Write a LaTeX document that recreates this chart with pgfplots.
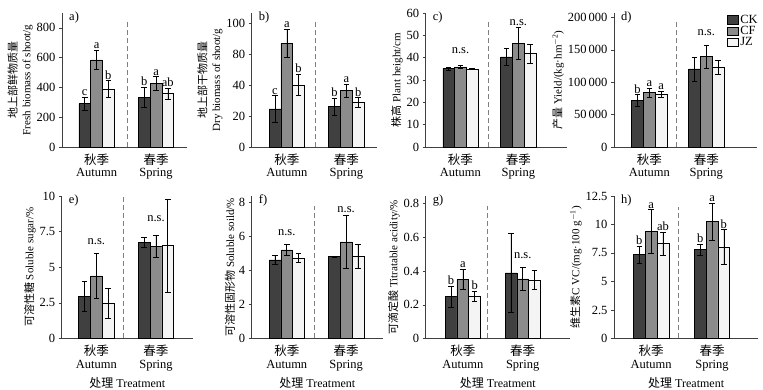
\documentclass[border=0pt]{standalone}
\usepackage{fontspec}
\usepackage{pgfplots}
\pgfplotsset{compat=1.18}
\setmainfont{Liberation Serif}
\newfontfamily\cjk{Noto Sans CJK SC}
\definecolor{ckc}{HTML}{404040}
\definecolor{cfc}{HTML}{8C8C8C}
\definecolor{jzc}{HTML}{F4F4F4}
\newcommand{\sig}[4]{\node[anchor=south,inner sep=1.2pt,font=\fontsize{12.5}{12.5}\selectfont] at ([xshift=#3]axis cs:#1,#2) {#4};}
\newcommand{\ns}[2]{\node[anchor=center,font=\fontsize{12.5}{12.5}\selectfont] at (axis cs:#1,#2) {n.s.};}
\newcommand{\plab}[1]{\node[anchor=north west,inner sep=0pt,font=\fontsize{12.5}{12.5}\selectfont] at ([xshift=7pt,yshift=1pt]rel axis cs:0,1) {#1};}
\pgfplotsset{
  panel/.style={
    scale only axis, axis lines=left,
    axis line style={-, black!75, line width=0.8pt},
    ybar=0pt, bar width=11.8pt,
    xtick={1,2},
    xticklabels={{{\cjk 秋季}\\Autumn},{{\cjk 春季}\\Spring}},
    xticklabel style={align=center, font=\fontsize{12.5}{12.5}\selectfont},
    x tick style={draw=none},
    y tick style={black!75, line width=0.6pt}, tick align=outside, major tick length=3pt,
    yticklabel style={font=\fontsize{12.5}{12.5}\selectfont},
    ylabel style={align=center, font=\fontsize{11}{13.5}\selectfont, yshift=-3pt},
    xlabel style={font=\fontsize{12}{12}\selectfont},
    ymin=0, enlarge y limits=false, enlarge x limits=false, clip=false,
    scaled y ticks=false,
    /pgf/number format/assume math mode=true,
    error bars/y dir=both, error bars/y explicit,
    error bars/error mark options={rotate=90, mark size=2.8pt, line width=0.6pt, black},
    error bars/error bar style={line width=0.6pt, black},
    every axis plot/.append style={line width=0.5pt},
  },
  ck/.style={fill=ckc, draw=black},
  cf/.style={fill=cfc, draw=black},
  jz/.style={fill=jzc, draw=black},
}
\newcommand{\sep}[2]{\draw[dashed, black!50, line width=0.7pt, dash pattern=on 5pt off 3pt] ({axis cs:#1,0}|-{rel axis cs:0,0}) -- ({axis cs:#1,0}|-{rel axis cs:0,#2});}
\begin{document}
\begin{tikzpicture}
\useasboundingbox (0pt,0pt) rectangle (763pt,390pt);
% ---------- a ----------
\begin{axis}[panel, at={(62pt,243pt)}, anchor=south west, width=125pt, height=134pt,
  xmin=0.42, xmax=2.52, ymax=900, ytick={0,200,400,600,800},
  ylabel={{\cjk 地上部鲜物质量}\\Fresh biomass of shoot/g}]
\addplot[ck] coordinates {(1,292) +- (0,44) (2,335) +- (0,68)};
\addplot[cf] coordinates {(1,585) +- (0,63) (2,428) +- (0,44)};
\addplot[jz] coordinates {(1,390) +- (0,55) (2,358) +- (0,38)};
\sep{1.51}{0.93}
\plab{a)}
\sig{1}{336}{-11.8pt}{c}\sig{1}{648}{0pt}{a}\sig{1}{445}{11.8pt}{b}
\sig{2}{403}{-11.8pt}{b}\sig{2}{472}{0pt}{a}\sig{2}{396}{11.8pt}{ab}
\end{axis}
% ---------- b ----------
\begin{axis}[panel, at={(251.7pt,243pt)}, anchor=south west, width=125pt, height=134pt,
  xmin=0.41, xmax=2.51, ymax=87, ytick={0,20,40,60,80}, yticklabels={0,20,40,80,100},
  ylabel={{\cjk 地上部干物质量}\\Dry biomass of shoot/g}]
\addplot[ck] coordinates {(1,24.7) +- (0,8.6) (2,26.2) +- (0,5.3)};
\addplot[cf] coordinates {(1,67.3) +- (0,9) (2,36.6) +- (0,4.3)};
\addplot[jz] coordinates {(1,40.4) +- (0,6.8) (2,29) +- (0,3)};
\sep{1.48}{0.93}
\plab{b)}
\sig{1}{33.3}{-11.8pt}{c}\sig{1}{76.3}{0pt}{a}\sig{1}{47.2}{11.8pt}{b}
\sig{2}{31.5}{-11.8pt}{b}\sig{2}{40.9}{0pt}{a}\sig{2}{32}{11.8pt}{b}
\end{axis}
% ---------- c ----------
\begin{axis}[panel, at={(425.7pt,243pt)}, anchor=south west, width=141.3pt, height=134pt,
  xmin=0.4, xmax=2.84, ymax=60, ytick={0,10,20,30,40,50,60},
  ylabel={{\cjk 株高} Plant height/cm}]
\addplot[ck] coordinates {(1,35.1) +- (0,0.7) (2,40.4) +- (0,4)};
\addplot[cf] coordinates {(1,35.9) +- (0,0.8) (2,46.4) +- (0,7.2)};
\addplot[jz] coordinates {(1,34.9) +- (0,0.3) (2,41.9) +- (0,4.3)};
\sep{1.49}{0.95}
\plab{c)}
\ns{1}{43}\ns{2}{55.5}
\end{axis}
% ---------- d ----------
\begin{axis}[panel, at={(614pt,243pt)}, anchor=south west, width=143pt, height=134pt,
  xmin=0.38, xmax=2.89, ymax=207000, ytick={0,50000,100000,150000,200000},
  yticklabels={0,50\,000,100\,000,150\,000,200\,000},
  ylabel={{\cjk 产量} Yield/(kg·hm\textsuperscript{$-$2})},
  legend style={at={(rel axis cs:1.02,1.0)}, anchor=north east, draw=none, fill=none,
    font=\fontsize{12.5}{12.5}\selectfont, row sep=-2.5pt, inner sep=0pt},
  legend cell align=left,
  legend image code/.code={\draw[#1, draw=black, line width=0.5pt] (0pt,-4pt) rectangle (11pt,4.5pt);}]
\addplot[ck] coordinates {(1,71700) +- (0,9000) (2,120500) +- (0,18500)};
\addplot[cf] coordinates {(1,84200) +- (0,6800) (2,139700) +- (0,17700)};
\addplot[jz] coordinates {(1,81600) +- (0,4400) (2,123600) +- (0,11000)};
\legend{CK,CF,JZ}
\sep{1.48}{0.94}
\plab{d)}
\sig{1}{80700}{-11.8pt}{b}\sig{1}{91000}{0pt}{a}\sig{1}{86000}{11.8pt}{a}
\ns{2}{176600}
\end{axis}
% ---------- e ----------
\begin{axis}[panel, at={(61.7pt,51.5pt)}, anchor=south west, width=131.3pt, height=142.5pt,
  xmin=0.42, xmax=2.62, ymax=10, ytick={0,2.5,5,7.5,10}, yticklabels={0,2.5,5,7.5,10},
  ylabel={{\cjk 可溶性糖} Soluble sugar/\%},
  xlabel={{\cjk 处理} Treatment}]
\addplot[ck] coordinates {(1,2.95) +- (0,1.05) (2,6.75) +- (0,0.32)};
\addplot[cf] coordinates {(1,4.4) +- (0,1.55) (2,6.45) +- (0,0.76)};
\addplot[jz] coordinates {(1,2.45) +- (0,1.05) (2,6.52) +- (0,3.26)};
\sep{1.45}{0.99}
\plab{e)}
\ns{1}{6.8}\ns{2}{8.43}
\end{axis}
% ---------- f ----------
\begin{axis}[panel, at={(251.7pt,51.5pt)}, anchor=south west, width=131.3pt, height=142.5pt,
  xmin=0.41, xmax=2.62, ymax=8.35, ytick={0,2,4,6,8},
  ylabel={{\cjk 可溶性固形物} Soluble soild/\%},
  xlabel={{\cjk 处理} Treatment}]
\addplot[ck] coordinates {(1,4.6) +- (0,0.26) (2,4.8) +- (0,0.04)};
\addplot[cf] coordinates {(1,5.2) +- (0,0.34) (2,5.66) +- (0,1.56)};
\addplot[jz] coordinates {(1,4.72) +- (0,0.27) (2,4.82) +- (0,0.72)};
\sep{1.46}{0.93}
\plab{f)}
\ns{1}{6.19}\ns{2}{7.55}
\end{axis}
% ---------- g ----------
\begin{axis}[panel, at={(425.7pt,51.5pt)}, anchor=south west, width=144.3pt, height=142.5pt,
  xmin=0.38, xmax=2.79, ymax=0.846, ytick={0,0.2,0.4,0.6,0.8},
  yticklabels={0,0.2,0.4,0.6,0.8},
  ylabel={{\cjk 可滴定酸} Titratable acidity/\%},
  xlabel={{\cjk 处理} Treatment}]
\addplot[ck] coordinates {(1,0.25) +- (0,0.062) (2,0.39) +- (0,0.237)};
\addplot[cf] coordinates {(1,0.35) +- (0,0.06) (2,0.354) +- (0,0.066)};
\addplot[jz] coordinates {(1,0.25) +- (0,0.03) (2,0.347) +- (0,0.056)};
\sep{1.41}{0.93}
\plab{g)}
\sig{1}{0.312}{-11.8pt}{b}\sig{1}{0.41}{0pt}{a}\sig{1}{0.28}{11.8pt}{b}
\ns{2}{0.493}
\end{axis}
% ---------- h ----------
\begin{axis}[panel, at={(614pt,51.5pt)}, anchor=south west, width=144.3pt, height=142.5pt,
  xmin=0.39, xmax=2.76, ymax=12.5, ytick={0,2.5,5,7.5,10,12.5},
  yticklabels={0,2.5,5,7.5,10,12.5},
  ylabel={{\cjk 维生素}C VC/(mg·100 g\textsuperscript{$-$1})},
  xlabel={{\cjk 处理} Treatment}]
\addplot[ck] coordinates {(1,7.35) +- (0,0.73) (2,7.79) +- (0,0.47)};
\addplot[cf] coordinates {(1,9.4) +- (0,1.9) (2,10.27) +- (0,1.63)};
\addplot[jz] coordinates {(1,8.32) +- (0,1.02) (2,8.02) +- (0,1.52)};
\sep{1.45}{0.92}
\plab{h)}
\sig{1}{8.08}{-11.8pt}{b}\sig{1}{11.3}{0pt}{a}\sig{1}{9.34}{11.8pt}{ab}
\sig{2}{8.26}{-11.8pt}{b}\sig{2}{11.9}{0pt}{a}\sig{2}{9.54}{11.8pt}{b}
\end{axis}
\end{tikzpicture}
\end{document}
